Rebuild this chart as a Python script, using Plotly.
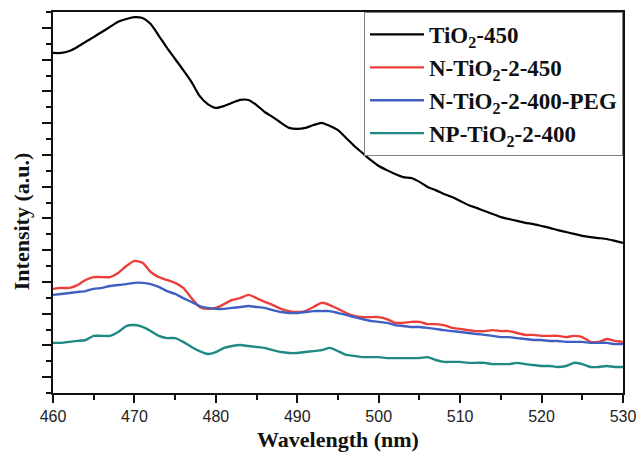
import plotly.graph_objects as go

# Emission spectra, 460-530 nm, 1 nm steps
wavelength = list(range(460, 531))

tio2_450 = [1071, 1071, 1077, 1090, 1106, 1121, 1137, 1153, 1169, 1178,
            1184, 1181, 1162, 1125, 1087, 1052, 1017, 980, 936, 910,
            898, 904, 914, 923, 923, 907, 885, 869, 851, 835,
            832, 835, 844, 851, 841, 828, 803, 778, 756, 734,
            715, 702, 690, 680, 677, 665, 649, 639, 627, 617,
            605, 592, 583, 573, 564, 554, 548, 542, 536, 532,
            526, 520, 513, 507, 501, 495, 491, 488, 485, 479,
            473]

n_tio2_2_450 = [328, 331, 331, 340, 356, 365, 365, 365, 378, 400,
                416, 410, 381, 365, 356, 347, 331, 299, 271, 265,
                268, 280, 293, 299, 309, 299, 287, 277, 265, 258,
                255, 258, 271, 284, 277, 265, 252, 243, 239, 239,
                239, 233, 221, 221, 224, 224, 217, 217, 214, 205,
                202, 198, 195, 195, 198, 195, 195, 189, 183, 183,
                180, 180, 180, 176, 180, 176, 161, 161, 170, 164,
                161]

n_tio2_2_400_peg = [309, 312, 315, 318, 321, 328, 331, 337, 340, 343,
                    347, 347, 343, 334, 321, 312, 299, 287, 274, 268,
                    265, 265, 268, 271, 274, 271, 268, 261, 255, 252,
                    252, 255, 258, 258, 258, 252, 246, 239, 233, 227,
                    224, 221, 214, 211, 208, 208, 205, 202, 198, 195,
                    192, 189, 186, 183, 180, 176, 176, 173, 170, 167,
                    167, 164, 164, 161, 161, 161, 158, 158, 158, 154,
                    154]

np_tio2_2_400 = [158, 158, 161, 164, 167, 180, 180, 180, 192, 211,
                 214, 208, 195, 180, 173, 173, 161, 145, 132, 123,
                 129, 142, 148, 151, 148, 145, 142, 135, 129, 126,
                 126, 129, 132, 135, 142, 132, 120, 117, 113, 113,
                 113, 110, 110, 110, 110, 110, 113, 104, 98, 98,
                 98, 95, 95, 95, 91, 91, 91, 95, 91, 88,
                 85, 85, 82, 85, 95, 91, 82, 82, 85, 82,
                 82]

series = [
    ("TiO<sub>2</sub>-450", tio2_450, "#000000", 2.2),
    ("N-TiO<sub>2</sub>-2-450", n_tio2_2_450, "#ec3f3a", 2.4),
    ("N-TiO<sub>2</sub>-2-400-PEG", n_tio2_2_400_peg, "#3f5fc2", 2.4),
    ("NP-TiO<sub>2</sub>-2-400", np_tio2_2_400, "#1f8a82", 2.4),
]

x_ticks = [460, 470, 480, 490, 500, 510, 520, 530]

fig = go.Figure()
for name, values, color, width in series:
    fig.add_trace(go.Scatter(
        x=wavelength, y=values, name=name, mode="lines",
        line=dict(color=color, width=width, shape="spline", smoothing=0.6),
    ))

serif = "Liberation Serif, Times New Roman, serif"
sans = "Liberation Sans, Arial, sans-serif"

fig.update_layout(
    width=636, height=453,
    margin=dict(l=53, r=13, t=12, b=60, autoexpand=False),
    paper_bgcolor="white", plot_bgcolor="white",
    showlegend=True,
    legend=dict(
        x=1, y=1, xanchor="right", yanchor="top",
        bgcolor="white", bordercolor="#808080", borderwidth=1,
        font=dict(family=serif, size=23, color="#111", weight="bold"),
        itemwidth=54, tracegroupgap=0,
    ),
    xaxis=dict(
        range=[460, 530], tickvals=x_ticks, ticks="outside", ticklen=8,
        tickwidth=1.5, tickcolor="#111", automargin=False,
        ticklabeloverflow="allow",
        minor=dict(dtick=5, tick0=460, ticks="outside", ticklen=5,
                   tickwidth=1.5, tickcolor="#111"),
        showline=True, linecolor="#111", linewidth=1.5, mirror=True,
        showgrid=False, zeroline=False,
        tickfont=dict(family=sans, size=16, color="#222"),
    ),
    yaxis=dict(
        range=[0, 1200], tick0=50, dtick=100, ticks="outside", ticklen=9,
        tickwidth=1.5, tickcolor="#111", showticklabels=False,
        automargin=False,
        minor=dict(tick0=0, dtick=50, ticks="outside", ticklen=5,
                   tickwidth=1.5, tickcolor="#111"),
        showline=True, linecolor="#111", linewidth=1.5, mirror=True,
        showgrid=False, zeroline=False,
    ),
    annotations=[
        dict(text="Wavelength (nm)", xref="paper", yref="paper",
             x=0.5, y=-0.123, xanchor="center", yanchor="middle",
             showarrow=False,
             font=dict(family=serif, size=22, color="#111", weight="bold")),
        dict(text="Intensity (a.u.)", xref="paper", yref="paper",
             x=-0.055, y=0.45, xanchor="center", yanchor="middle",
             textangle=-90, showarrow=False,
             font=dict(family=serif, size=22, color="#111", weight="bold")),
    ],
)

fig.write_html("out.html")
